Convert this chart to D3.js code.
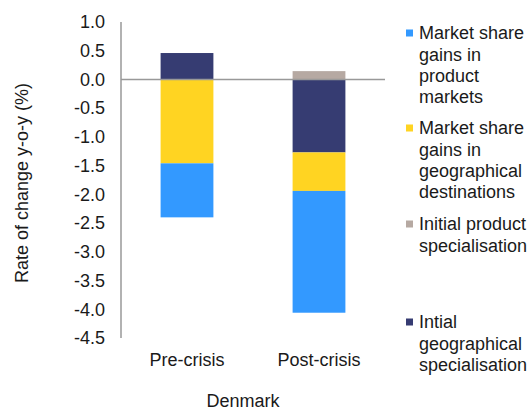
<!DOCTYPE html>
<html>
<head>
<meta charset="utf-8">
<script src="https://cdn.jsdelivr.net/npm/d3@7"></script>
<style>
  body { margin: 0; background: #fff; }
  text { font-family: "Liberation Sans", Arial, sans-serif; fill: #1a1a1a; }
</style>
</head>
<body>
<div id="chart"></div>
<script>
// categories and series (stack order: closest to zero first)
var periods = ["Pre-crisis", "Post-crisis"];
var geoSpec = [0.46, -1.27];        // Intial geographical specialisation
var prodSpec = [0.0, 0.145];        // Initial product specialisation
var geoGains = [-1.46, -0.67];      // Market share gains in geographical destinations
var prodGains = [-0.94, -2.12];     // Market share gains in product markets
var yTicks = [1.0, 0.5, 0.0, -0.5, -1.0, -1.5, -2.0, -2.5, -3.0, -3.5, -4.0, -4.5];

var keys = ["geoSpec", "prodSpec", "geoGains", "prodGains"];
var colors = { geoSpec: "#363c72", prodSpec: "#b6a9a2", geoGains: "#ffd422", prodGains: "#3399ff" };

var legendItems = [
  { key: "prodGains", lines: ["Market share", "gains in", "product", "markets"], y: 33 },
  { key: "geoGains", lines: ["Market share", "gains in", "geographical", "destinations"], y: 128 },
  { key: "prodSpec", lines: ["Initial product", "specialisation"], y: 224 },
  { key: "geoSpec", lines: ["Intial", "geographical", "specialisation"], y: 322 }
];

var rows = periods.map(function(p, i) {
  return { period: p, geoSpec: geoSpec[i], prodSpec: prodSpec[i], geoGains: geoGains[i], prodGains: prodGains[i] };
});

var width = 531, height = 410;
var svg = d3.select("#chart").append("svg")
  .attr("width", width)
  .attr("height", height);

var x = d3.scaleBand().domain(periods).range([121, 385]).paddingInner(0.6).paddingOuter(0.3);
var y = d3.scaleLinear().domain([-4.5, 1.0]).range([338, 22]);

var series = d3.stack().keys(keys).offset(d3.stackOffsetDiverging)(rows);

svg.append("g").selectAll("g")
  .data(series)
  .enter().append("g")
  .attr("fill", function(d) { return colors[d.key]; })
  .selectAll("rect")
  .data(function(d) { return d; })
  .enter().append("rect")
  .attr("x", function(d) { return x(d.data.period); })
  .attr("width", x.bandwidth())
  .attr("y", function(d) { return y(Math.max(d[0], d[1])); })
  .attr("height", function(d) { return Math.abs(y(d[0]) - y(d[1])); });

// y axis line + labels
svg.append("line")
  .attr("x1", 121).attr("x2", 121)
  .attr("y1", y(1.0)).attr("y2", y(-4.5))
  .attr("stroke", "#999").attr("stroke-width", 1.5);

svg.append("g").selectAll("text")
  .data(yTicks)
  .enter().append("text")
  .attr("x", 105)
  .attr("y", function(d) { return y(d); })
  .attr("dy", "0.35em")
  .attr("text-anchor", "end")
  .style("font-size", "18px")
  .text(function(d) { return d.toFixed(1); });

// zero line
svg.append("line")
  .attr("x1", 121).attr("x2", 385)
  .attr("y1", y(0)).attr("y2", y(0))
  .attr("stroke", "#999").attr("stroke-width", 1.5);

// category labels
svg.append("g").selectAll("text")
  .data(periods)
  .enter().append("text")
  .attr("x", function(d) { return x(d) + x.bandwidth() / 2; })
  .attr("y", 360)
  .attr("dy", "0.35em")
  .attr("text-anchor", "middle")
  .style("font-size", "18px")
  .text(function(d) { return d; });

svg.append("text")
  .attr("x", 243).attr("y", 401)
  .attr("dy", "0.35em")
  .attr("text-anchor", "middle")
  .style("font-size", "18px")
  .text("Denmark");

svg.append("text")
  .attr("transform", "translate(22,183) rotate(-90)")
  .attr("dy", "0.35em")
  .attr("text-anchor", "middle")
  .style("font-size", "18px")
  .text("Rate of change y-o-y (%)");

// legend
var leg = svg.append("g").selectAll("g")
  .data(legendItems)
  .enter().append("g")
  .attr("transform", function(d) { return "translate(406," + d.y + ")"; });

leg.append("rect")
  .attr("x", 0).attr("y", -3.5)
  .attr("width", 7).attr("height", 7)
  .attr("fill", function(d) { return colors[d.key]; });

leg.append("text")
  .style("font-size", "18px")
  .selectAll("tspan")
  .data(function(d) { return d.lines; })
  .enter().append("tspan")
  .attr("x", 13)
  .attr("y", function(d, i) { return i * 21.3; })
  .attr("dy", "0.35em")
  .text(function(d) { return d; });
</script>
</body>
</html>
